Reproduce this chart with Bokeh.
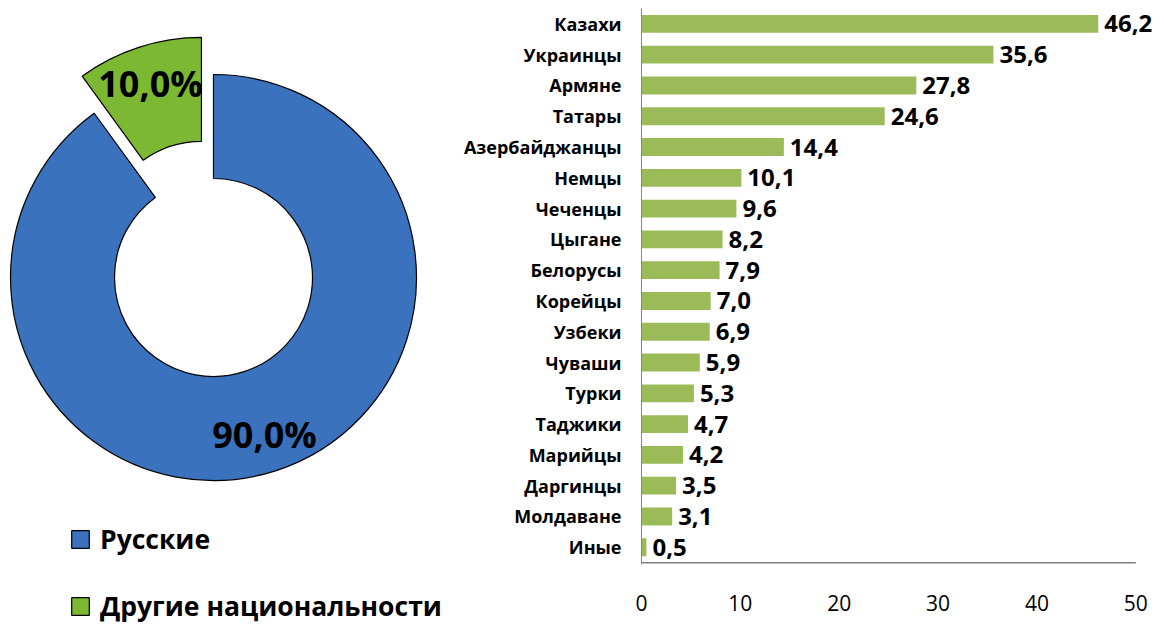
import math
from bokeh.plotting import figure
from bokeh.layouts import row
from bokeh.models import Range1d, Legend, LegendItem, ColumnDataSource, FixedTicker
from bokeh.core.properties import value
from bokeh.embed import file_html
from bokeh.resources import INLINE

# ---- data ----
pie_labels = ["Русские", "Другие национальности"]
pie_shares = [90.0, 10.0]
pie_colors = ["#3A72BD", "#7DB832"]

nations = ["Казахи", "Украинцы", "Армяне", "Татары", "Азербайджанцы", "Немцы", "Чеченцы",
           "Цыгане", "Белорусы", "Корейцы", "Узбеки", "Чуваши", "Турки", "Таджики",
           "Марийцы", "Даргинцы", "Молдаване", "Иные"]
counts = [46.2, 35.6, 27.8, 24.6, 14.4, 10.1, 9.6, 8.2, 7.9, 7.0, 6.9, 5.9, 5.3, 4.7,
          4.2, 3.5, 3.1, 0.5]
x_ticks = [0, 10, 20, 30, 40, 50]

FONT = "Open Sans"
TOTAL_W, H = 1164, 624
B_TOP, B_BOT = 8, 60

def fmt(v):
    return f"{v:.1f}".replace(".", ",")

def no_align(p):
    if "frame_align" in p.properties():
        p.frame_align = False

# ---- donut ----
W1 = 460
p1 = figure(width=W1, height=H, x_range=Range1d(0, W1), y_range=Range1d(0, H),
            output_backend="svg", toolbar_location=None, min_border=0)
no_align(p1)
p1.axis.visible = False
p1.grid.visible = False
p1.outline_line_color = None

cx, cy = 213, 347
r_out, r_in = 203, 99
explode = [0, 39]
label_r = 165

total = sum(pie_shares)
cum = 0.0
xs, ys, starts, ends, lx, ly, ltxt = [], [], [], [], [], [], []
for s, e in zip(pie_shares, explode):
    a_end = math.pi / 2 - cum / total * 2 * math.pi
    cum += s
    a_start = math.pi / 2 - cum / total * 2 * math.pi
    mid = (a_start + a_end) / 2
    ox, oy = cx + e * math.cos(mid), cy + e * math.sin(mid)
    xs.append(ox); ys.append(oy); starts.append(a_start); ends.append(a_end)
    lx.append(ox + label_r * math.cos(mid)); ly.append(oy + label_r * math.sin(mid))
    ltxt.append(fmt(s) + "%")

src = ColumnDataSource(dict(x=xs, y=ys, s=starts, e=ends, c=pie_colors, lab=pie_labels))
wr = p1.annular_wedge(x="x", y="y", inner_radius=r_in, outer_radius=r_out,
                      start_angle="s", end_angle="e", fill_color="c",
                      line_color="black", line_width=1.2, source=src)
p1.text(x=lx, y=ly, text=ltxt, text_font=value(FONT), text_font_style="bold",
        text_font_size="36px", text_align="center", text_baseline="middle", text_color="black")

legend = Legend(items=[LegendItem(label=pie_labels[i], renderers=[wr], index=i) for i in range(2)],
                location=(69, 0), orientation="vertical",
                glyph_width=22, glyph_height=22, label_standoff=9, spacing=31,
                padding=0, margin=0, border_line_color=None, background_fill_alpha=0,
                label_text_font=FONT, label_text_font_style="bold", label_text_font_size="26.5px",
                label_text_color="black")
p1.add_layout(legend)

# ---- bars ----
W2 = TOTAL_W - W1
n = len(nations)
pos = [n - 1 - i for i in range(n)]          # first category at the top
p2 = figure(width=W2, height=H, y_range=Range1d(-0.56, n - 0.5), x_range=Range1d(0, 52.5),
            output_backend="svg", toolbar_location=None,
            min_border_left=180, min_border_right=4, min_border_top=B_TOP, min_border_bottom=B_BOT)
no_align(p2)
p2.grid.visible = False
p2.outline_line_color = None

bsrc = ColumnDataSource(dict(y=pos, v=counts, t=[fmt(v) for v in counts]))
p2.hbar(y="y", right="v", left=0, height=0.58, fill_color="#9BBB59", line_color=None, source=bsrc)
p2.text(x="v", y="y", text="t", x_offset=6, text_font=value(FONT), text_font_style="bold",
        text_font_size="24px", text_baseline="middle", text_align="left", text_color="black",
        source=bsrc)
# bottom rule of the value axis (0 .. last tick)
p2.segment(x0=x_ticks[0], x1=x_ticks[-1], y0=min(pos) - 0.5, y1=min(pos) - 0.5,
           line_color="#7F7F7F", line_width=1.5)

p2.xaxis.ticker = x_ticks
p2.xaxis.axis_line_color = None
p2.xaxis.major_tick_line_color = None
p2.xaxis.minor_tick_line_color = None
p2.xaxis.major_label_standoff = 24
p2.xaxis.major_label_text_font = FONT
p2.xaxis.major_label_text_font_size = "21px"
p2.xaxis.major_label_text_color = "black"

p2.yaxis.ticker = FixedTicker(ticks=pos)
p2.yaxis.major_label_overrides = {p: name for p, name in zip(pos, nations)}
p2.yaxis.axis_line_color = "#868686"
p2.yaxis.major_tick_line_color = None
p2.yaxis.minor_tick_line_color = None
p2.yaxis.major_label_standoff = 14
p2.yaxis.major_label_text_font = FONT
p2.yaxis.major_label_text_font_style = "bold"
p2.yaxis.major_label_text_font_size = "18px"
p2.yaxis.major_label_text_color = "black"

layout = row(p1, p2)
open("out.html", "w").write(file_html(layout, INLINE))
